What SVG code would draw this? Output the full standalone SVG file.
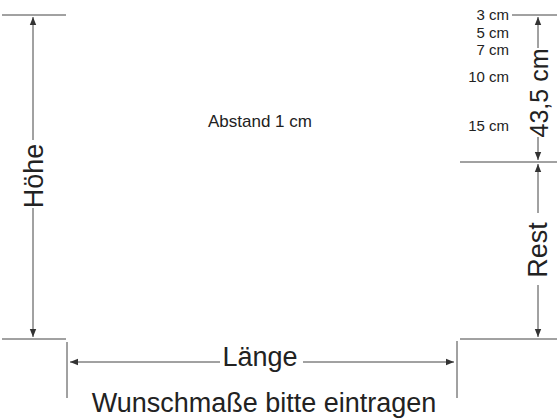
<svg xmlns="http://www.w3.org/2000/svg" width="560" height="420" viewBox="0 0 560 420">
<style>
.ln{stroke:#444;stroke-width:1;fill:none}
.t{font-family:"Liberation Sans",Arial,sans-serif;fill:#222}
.big{font-size:27px}
.sm{font-size:15px;text-anchor:end}
</style>
<defs>
<marker id="ahe" viewBox="0 0 10 10" refX="10" refY="5" markerWidth="8" markerHeight="8" markerUnits="userSpaceOnUse" orient="auto">
<path d="M0,1 L10,5 L0,9 Z" fill="#333"/>
</marker>
</defs>
<g id="guides">
<line class="ln" x1="2" y1="15" x2="66" y2="15"/>
<line class="ln" x1="2" y1="339" x2="66" y2="339"/>
<line class="ln" x1="67" y1="342" x2="67" y2="398"/>
<line class="ln" x1="512" y1="15" x2="557" y2="15"/>
<line class="ln" x1="460" y1="162" x2="557" y2="162"/>
<line class="ln" x1="460" y1="339" x2="557" y2="339"/>
<line class="ln" x1="457" y1="341" x2="457" y2="398"/>
</g>
<g id="connectors">
<path class="ln" d="M33,140 L33,17" marker-end="url(#ahe)"/>
<path class="ln" d="M33,208 L33,337" marker-end="url(#ahe)"/>
<path class="ln" d="M538,48 L538,17" marker-end="url(#ahe)"/>
<path class="ln" d="M538,137 L538,160" marker-end="url(#ahe)"/>
<path class="ln" d="M538,213 L538,164" marker-end="url(#ahe)"/>
<path class="ln" d="M538,285 L538,337" marker-end="url(#ahe)"/>
<path class="ln" d="M220,362 L70,362" marker-end="url(#ahe)"/>
<path class="ln" d="M303,362 L454,362" marker-end="url(#ahe)"/>
</g>
<g id="hoehe"><text class="t big" text-anchor="middle" transform="translate(43,176) rotate(-90)">Höhe</text></g>
<g id="laenge"><text class="t big" x="260" y="366" text-anchor="middle">Länge</text></g>
<g id="rest"><text class="t big" text-anchor="middle" transform="translate(547,250) rotate(-90)">Rest</text></g>
<g id="hoehe435"><text class="t" font-size="25" text-anchor="middle" transform="translate(548,93) rotate(-90)">43,5 cm</text></g>
<g id="abstand"><text class="t" font-size="17" x="260" y="127" text-anchor="middle">Abstand 1 cm</text></g>
<g id="marks">
<text class="t sm" x="509" y="20">3 cm</text>
<text class="t sm" x="509" y="37.5">5 cm</text>
<text class="t sm" x="509" y="55">7 cm</text>
<text class="t sm" x="509" y="82">10 cm</text>
<text class="t sm" x="509" y="131">15 cm</text>
</g>
<g id="caption"><text class="t big" x="264" y="412" text-anchor="middle">Wunschmaße bitte eintragen</text></g>
</svg>
